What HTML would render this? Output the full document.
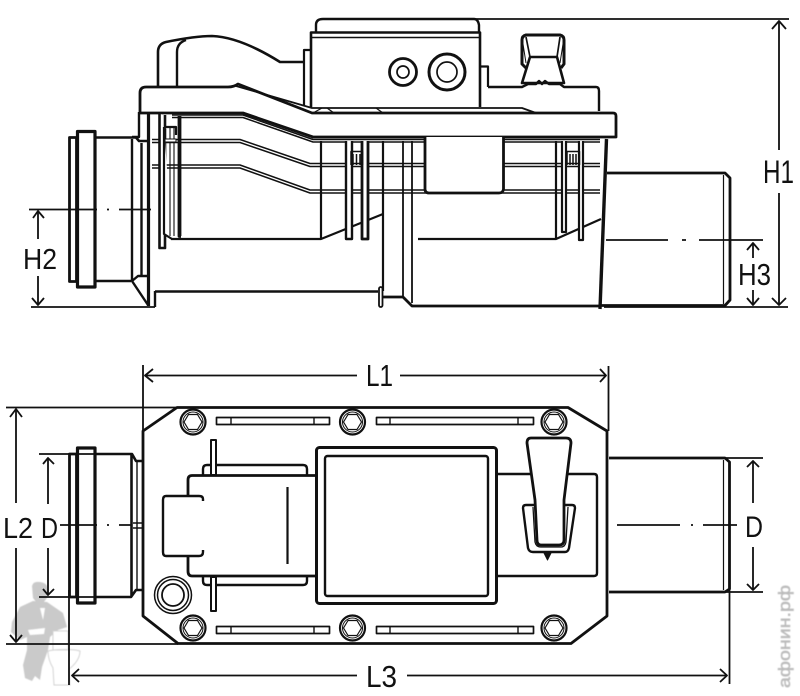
<!DOCTYPE html>
<html><head><meta charset="utf-8"><style>
html,body{margin:0;padding:0;background:#fff}
svg{display:block}
text{font-family:"Liberation Sans",sans-serif;fill:#111}
</style></head><body>
<svg width="800" height="696" viewBox="0 0 800 696" xmlns="http://www.w3.org/2000/svg">
<defs><filter id="b" x="-20%" y="-20%" width="140%" height="140%"><feGaussianBlur stdDeviation="0.6"/></filter>
<g id="bolt"><circle r="12.5" fill="#fff" stroke="#111" stroke-width="2.2"/><circle r="10" fill="none" stroke="#111" stroke-width="1"/><polygon points="-9,0 -4.5,-7.5 4.5,-7.5 9,0 4.5,7.5 -4.5,7.5" fill="#fff" stroke="#111" stroke-width="1.2"/></g>
</defs>
<!-- watermark -->
<g filter="url(#b)">
<g fill="#cacaca">
<path d="M32 586Q33 581 40 582Q48 583 48 590L47 598L43 603H37L33 598Z"/>
<path d="M33 601L20 607L12 622L11 632L20 640L27 637L27 650L23 665L25 678L32 681L35 676L40 680L42 667L48 650L50 637L58 630L67 627L63 613L47 602Z"/>
</g>
<path d="M40 608L45 608L43 620Z" fill="#fff"/>
<path d="M28 630L45 628L44 634L30 635Z" fill="#fff"/>
<path d="M53 631H68V650H53ZM48 651C56 649 74 649 80 651C80 660 72 667 69 669L70 685H54L53 668C50 663 48 657 48 651Z" fill="#fff" stroke="#d2d2d2" stroke-width="1"/>
<text transform="translate(790,688) rotate(-90)" font-size="17" textLength="103" lengthAdjust="spacingAndGlyphs" style="fill:#bcbcbc;stroke:#bcbcbc;stroke-width:.5">афонин.рф</text>
</g>
<g fill="none" stroke="#111" stroke-width="2.2" stroke-linejoin="round">
<!-- TOP VIEW -->
<path d="M158 87V52Q158 44 166 42Q195 36 212 36Q240 37 280 62H304" stroke-width="2.6"/>
<path d="M177 87V52Q177 43 186 40" stroke-width="2.4"/>
<path d="M316 32V25Q316 19 323 19H474Q478 19 479 25V32" stroke-width="2.4"/>
<path d="M311 107V32.5H480V107" stroke-width="2.6"/>
<path d="M312 37.5H479" stroke-width="1.6"/>
<path d="M310 50H304V106" stroke-width="2.2"/>
<path d="M481 66.5H488V87" stroke-width="2.2"/>
<circle cx="403" cy="72" r="13.5" stroke-width="2.8"/><circle cx="403" cy="72" r="6" stroke-width="1.7"/>
<circle cx="447" cy="72" r="18" stroke-width="3"/><circle cx="447" cy="72" r="10" stroke-width="1.7"/>
<!-- knob -->
<path d="M526 68L522 64V40Q522 36 526 35H560Q564 36 564 40V64L561 68" stroke-width="3"/>
<path d="M530 57H557L564 83H522Z" stroke-width="2.6"/>
<path d="M526 37L530 57M560 37L557 57" stroke-width="1.7"/>
<path d="M523 44L526 63M563 44L560 63" stroke-width="1"/>
<path d="M488 87H522L528 84H536L539 81L542 84L545 81L549 84H560L564 87H596Q599 87 599 91V111" stroke-width="2.4"/>
<!-- plate -->
<path d="M140 112V93Q140 87 146 87H228Q234 87 238 84L312 113H613Q616 113 616 116V137H313L243 113H140Z" fill="#fff" stroke-width="2.8"/>
<path d="M232 86H236L312 108H522L536 113" stroke-width="1.8"/>
<path d="M313 113L322 108M383 113L376 108M327 108L334 113H376" stroke-width="1.2"/>
<g stroke-width="1.5">
<path d="M172 115H243L313 139.5H600"/><path d="M172 117.5H243L313 142H600"/>
<path d="M152 139.500H240L310 163.500H600"/><path d="M152 142.500H240L310 166.500H600"/>
<path d="M152 165H240L310 190H600"/><path d="M152 168H240L310 193H600"/>
</g>
<path d="M321 141V239M383 141V291M556 141V239" stroke-width="2.2"/>
<path d="M403 141V297M412 141V303" stroke-width="1.8"/>
<path d="M171 239H321L383 214" stroke-width="2.2"/>
<path d="M418 239H556L601 219" stroke-width="2.2"/>
<path d="M139 112V137H132" stroke-width="2.4"/>
<path d="M148.500 114V306" stroke-width="3.2"/>
<path d="M159.500 114V248H165V115" fill="#fff" stroke-width="2.600"/>
<path d="M164 127H176V135M164 127V234L172 239" fill="#fff" stroke-width="2.2"/>
<path d="M170 128V236M174 128V236" stroke-width="1.1"/>
<path d="M179.500 116V236H181" stroke-width="3.800"/>
<rect x="165" y="139" width="11" height="3" fill="#fff" stroke-width="1"/>
<path d="M155 291.500H378" stroke-width="2.600"/>
<path d="M155 291V307" stroke-width="2.400"/>
<rect x="69.500" y="137.500" width="7" height="144" fill="#fff" stroke-width="2.800"/>
<rect x="77.500" y="131.500" width="17.500" height="155.500" fill="#fff" stroke-width="3.200"/>
<path d="M95 137.500H136L139 141H147M95 281H131" stroke-width="2.600"/>
<path d="M132 139V281L138 276H147M132 281L148 305M141.500 143V276" stroke-width="2.400"/>
<path d="M346 141V239H352V141" fill="#fff" stroke-width="2.400"/>
<path d="M362 141V239H368V141" fill="#fff" stroke-width="2.800"/>
<path d="M351 165V151.500H362.500V165M353 154V165M356.500 154V165M360 154V165" stroke-width="1.500"/>
<path d="M562 141V232H566V141" fill="#fff" stroke-width="2.200"/>
<path d="M579 141V240H583V141" fill="#fff" stroke-width="2.200"/>
<path d="M567 165V151.500H579.500V165M570 154V165M573 154V165M576 154V165" stroke-width="1.500"/>
<path d="M425 137V189Q425 193 429 193H499Q503 193 503.500 189V137" fill="#fff" stroke-width="2.800"/>
<path d="M383 297H403L412 306H600" stroke-width="2.800"/>
<rect x="379" y="287" width="3.500" height="20" rx="1.700" fill="#fff" stroke-width="1.800"/>
<path d="M606.500 139L600 309" stroke-width="3.400"/>
<path d="M607 173H725L730 178V300L725 305.500H600" stroke-width="2.800"/>
<path d="M723.500 175V304" stroke-width="1.200"/>
<g stroke-width="1.800">
<path d="M320 19H789M604 307H788M31 307H155"/>
<path d="M779 21V150M779 193V305"/>
<path d="M772 29L779 21L786 29M772 298L779 305L786 298"/>
<path d="M38 211V239M38 276V305"/>
<path d="M33 218L38 211L44 218M32 298L38 305L44 298"/>
<path d="M753 243V258M753 290V305"/>
<path d="M747 250L753 243L759 250M747 298L753 305L759 298"/>
<path d="M29 209.500H97M107 209.500H109M119 209.500H151"/>
<path d="M606 240H668M682 240H686M699 240H763"/>
</g>
<!-- BOTTOM VIEW -->
<path d="M177 407.500H568L607 431V616L571 643.500H178L143 616V431Z" fill="#fff" stroke-width="2.800"/>
<rect x="216.500" y="417.500" width="113" height="7" stroke-width="1.700"/><path d="M231 417V425M314 417V425" stroke-width="1.400"/>
<rect x="376.500" y="417.500" width="157" height="7" stroke-width="1.700"/><path d="M390 417V425M518 417V425" stroke-width="1.400"/>
<rect x="216.500" y="626.500" width="113" height="7" stroke-width="1.700"/><path d="M231 626V634M314 626V634" stroke-width="1.400"/>
<rect x="376.500" y="626.500" width="157" height="7" stroke-width="1.700"/><path d="M390 626V634M518 626V634" stroke-width="1.400"/>
<use href="#bolt" x="193" y="422"/><use href="#bolt" x="352.500" y="422"/><use href="#bolt" x="554" y="422"/>
<use href="#bolt" x="193" y="628"/><use href="#bolt" x="352.500" y="628"/><use href="#bolt" x="554" y="628"/>
<rect x="69.500" y="454" width="7" height="143" fill="#fff" stroke-width="2.800"/>
<rect x="77.500" y="448" width="17.500" height="155" fill="#fff" stroke-width="3.200"/>
<path d="M95 454H132L136 461H143M95 597H131L136 590H143M131.500 455V596" stroke-width="2.600"/>
<path d="M137 462V590M133 523H143M133 528H143" stroke-width="1.400"/>
<path d="M203 475V469Q203 465 207 465H303Q307 465 307 469V475M203 576V581Q203 585 207 585H303Q307 585 307 581V576" fill="#fff" stroke-width="2.400"/>
<path d="M316 475.500H192Q188 475.500 188 480V571Q188 576 192 576H316" fill="#fff" stroke-width="2.800"/>
<rect x="211" y="440" width="5" height="35" fill="#fff" stroke-width="2"/>
<rect x="211" y="577" width="5" height="34" fill="#fff" stroke-width="2"/>
<path d="M287.500 487V564" stroke-width="2.200"/>
<path d="M203 501V499Q203 496 199 496H166Q163 496 163 500V552Q163 556 166 556H199Q203 556 203 552V550" fill="#fff" stroke-width="2.400"/>
<circle cx="173" cy="595" r="18.500" stroke-width="1.500"/><circle cx="173" cy="595" r="15.500" stroke-width="1.500"/><circle cx="173" cy="595" r="11" stroke-width="1.800"/>
<rect x="316.500" y="447.500" width="180" height="156" rx="3" fill="#fff" stroke-width="3"/>
<rect x="325" y="456" width="163" height="140" rx="2.500" stroke-width="2.400"/>
<path d="M497 474H594Q597 474 597 477V573Q597 576 594 576H497" stroke-width="2.400"/>
<path d="M527 443Q527 438 531 438H566Q571 438 571 443L564 500V540Q564 545 559 545H541Q537 545 537 540L535 500Z" fill="#fff" stroke-width="2.800"/>
<path d="M535 505H526Q523 505 523 508L528 548Q529 552 533 552H565Q568 552 569 548L575 508Q575 505 572 505H564" stroke-width="2.400"/>
<path d="M533 507L535 542Q536 547 541 547H561Q565 547 566 542L568 507" stroke-width="1.300"/>
<path d="M544 553H551L547.500 560Z" fill="#111" stroke-width="1"/>
<path d="M609 458H725L729.500 462V589L725 592H609" stroke-width="2.800"/>
<path d="M723.500 460V590" stroke-width="1.200"/>
<g stroke-width="1.800">
<path d="M143 365V431M608.500 366V431M145 375.500H357M400 375.500H606"/>
<path d="M153 369L145 375.500L153 382M600 369L606 375.500L600 382"/>
<path d="M6 407.500H178M6 644H178"/>
<path d="M16 409V503M16 548V642"/>
<path d="M10 417L16 409L22 417M10 635L16 642L22 635"/>
<path d="M39 454H100M39 597H100"/>
<path d="M48 458V504M48 548V595"/>
<path d="M43 464L48 458L54 464M43 589L48 595L54 589"/>
<path d="M69 590V685M729.500 590V684"/>
<path d="M72 675.500H357M407 675.500H727"/>
<path d="M79 669L72 675.500L79 682M720 669L727 675.500L720 682"/>
<path d="M725 458H763M725 592H763"/>
<path d="M753 461V503M753 547V590"/>
<path d="M747 467L753 461L759 467M747 584L753 590L759 584"/>
<path d="M60 525H97M107 525H109M119 525H131"/>
<path d="M617 525H680M691 525H693M703 525H737"/>
</g>
</g>
<!-- labels -->
<text x="763" y="183" font-size="32" textLength="31" lengthAdjust="spacingAndGlyphs">H1</text>
<text x="23" y="269" font-size="29" textLength="34" lengthAdjust="spacingAndGlyphs">H2</text>
<text x="738" y="285" font-size="31" textLength="33" lengthAdjust="spacingAndGlyphs">H3</text>
<text x="366" y="386" font-size="31" textLength="27" lengthAdjust="spacingAndGlyphs">L1</text>
<text x="3" y="538" font-size="29" textLength="30" lengthAdjust="spacingAndGlyphs">L2</text>
<text x="41" y="538" font-size="29" textLength="17" lengthAdjust="spacingAndGlyphs">D</text>
<text x="366" y="687" font-size="31" textLength="31" lengthAdjust="spacingAndGlyphs">L3</text>
<text x="745" y="537" font-size="30" textLength="18" lengthAdjust="spacingAndGlyphs">D</text>
</svg>
</body></html>
